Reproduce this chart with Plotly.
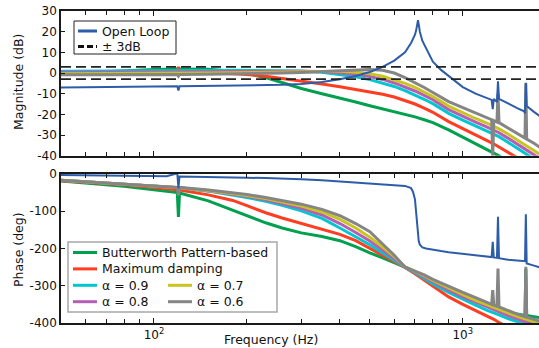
import math
import plotly.graph_objects as go

# ------------------------------------------------------------------ data
freq_ol = [50, 60, 70, 80, 90, 100, 110, 119, 120, 121, 140, 160, 180, 200, 230, 260, 300, 350, 400, 450,
           500, 550, 600, 650, 680, 690, 700, 706, 712, 716, 720, 726, 740, 760, 800, 850, 900, 950, 1000, 1100,
           1200, 1240, 1250, 1260, 1290, 1300, 1310, 1400, 1500, 1580, 1590, 1600, 1610, 1700, 1800]
open_loop_mag = [-7.0, -6.9, -6.8, -6.7, -6.6, -6.5, -6.4, -6.4, -8.5, -6.4, -6.3, -6.2, -6.1, -6.0, -5.9, -5.7, -5.3, -4.3, -3.0, -1.4,
                 0.5, 3.0, 6.0, 10.0, 14.5, 16.5, 18.5, 20.5, 23.5, 25.5, 23.5, 20.0, 15.5, 12.0, 5.5, 1.5, -1.5, -4.3, -6.8, -10.0,
                 -12.0, -13.0, -17.5, -12.5, -14.0, -4.0, -12.5, -14.8, -17.0, -18.5, -19.5, -4.7, -16.0, -18.8, -21.5]
open_loop_phase = [-3, -3.5, -4, -4.5, -5, -5.5, -6, 2, -38, -6.5, -7, -8, -9, -10, -11, -12, -14, -17, -20, -23,
                   -25, -27, -29, -32, -38, -48, -68, -100, -145, -165, -180, -190, -197, -200, -204, -207, -210, -212, -214, -218,
                   -222, -223, -182, -224, -225, -115, -226, -230, -232, -234, -234, -108, -240, -246, -252]

freq_cl = [50, 60, 80, 100, 119, 120, 121, 150, 180, 200, 230, 260, 300, 350, 400, 450, 500, 550, 600, 650,
           700, 750, 800, 900, 1000, 1100, 1200, 1240, 1250, 1260, 1290, 1300, 1310, 1400, 1500, 1590, 1600, 1610, 1700, 1800]

butter_mag = [-0.3, 0.3, 1.2, 1.7, 2.0, 2.0, 2.0, 1.8, 0.8, -0.3, -2.2, -4.5, -7.5, -10.0, -12.0, -14.0, -15.8, -17.3, -18.8, -20.0,
              -21.2, -22.6, -24.0, -27.5, -31.0, -34.0, -37.0, -38.0, -38.3, -38.6, -39.5, -39.8, -40.1, -43.0, -46.0, -48.0, -48.0, -48.3, -50.0, -52.0]
maxdamp_mag = [0.7, 0.7, 0.7, 0.6, 0.5, 3.0, 0.5, 0.3, -0.2, -0.7, -1.6, -2.6, -3.9, -5.3, -6.6, -7.9, -9.1, -10.3, -11.6, -13.2,
               -15.0, -17.0, -19.0, -23.5, -27.0, -30.0, -32.8, -33.8, -34.0, -34.3, -35.0, -35.2, -35.5, -38.0, -41.0, -43.5, -43.5, -43.7, -46.0, -48.5]
a09_mag = [0.9, 0.9, 1.0, 1.0, 1.1, 1.1, 1.1, 1.2, 1.3, 1.3, 1.3, 1.2, 1.0, 0.4, -0.6, -1.8, -3.2, -4.8, -6.5, -8.5,
           -10.6, -12.7, -14.8, -19.5, -22.8, -25.6, -28.0, -29.0, -29.2, -29.5, -30.3, -30.5, -30.8, -33.5, -36.5, -39.0, -39.0, -39.3, -41.5, -44.0]
a08_mag = [0.3, 0.3, 0.4, 0.4, 0.5, 0.5, 0.5, 0.6, 0.7, 0.8, 0.9, 0.9, 0.9, 0.7, 0.2, -0.6, -1.7, -3.1, -4.8, -6.7,
           -8.7, -10.8, -12.9, -17.7, -21.0, -23.8, -26.2, -27.1, -27.3, -27.6, -28.4, -28.6, -28.9, -31.5, -34.5, -37.0, -37.0, -37.3, -39.5, -42.0]
a07_mag = [-0.3, -0.3, -0.2, -0.2, -0.1, -0.1, -0.1, 0.0, 0.1, 0.2, 0.3, 0.4, 0.6, 0.8, 0.8, 0.4, -0.4, -1.6, -3.2, -5.0,
           -7.0, -9.2, -11.4, -16.0, -19.2, -22.0, -24.3, -25.2, -25.4, -25.7, -26.5, -26.7, -27.0, -29.5, -32.5, -35.0, -35.0, -35.3, -37.5, -40.0]
a06_mag = [-0.8, -0.8, -0.8, -0.8, -0.7, -1.5, -0.7, -0.6, -0.5, -0.4, -0.2, 0.0, 0.3, 0.8, 1.3, 1.6, 1.7, 1.3, 0.0, -2.2,
           -4.6, -7.0, -9.4, -13.8, -16.8, -19.5, -21.8, -22.6, -40.0, -23.0, -23.7, -10.0, -24.0, -26.5, -29.0, -31.5, -5.0, -32.0, -34.0, -36.5]

butter_phase = [-19, -24, -33, -42, -50, -115, -51, -72, -98, -113, -131, -145, -158, -168, -179, -195, -212, -225, -238, -250,
                -264, -277, -290, -311, -328, -342, -354, -358, -359, -360, -363, -364, -365, -371, -376, -380, -255, -380, -383, -386]
maxdamp_phase = [-18, -22, -29, -36, -43, -43, -43, -56, -71, -85, -104, -118, -133, -148, -162, -179, -199, -218, -235, -251,
                 -268, -285, -302, -330, -350, -366, -380, -386, -388, -390, -395, -397, -399, -410, -420, -428, -428, -428, -435, -442]
a09_phase = [-17, -21, -27, -32, -37, -37, -37, -46, -56, -63, -73, -84, -99, -119, -145, -168, -190, -212, -232, -250,
             -265, -280, -295, -318, -337, -352, -366, -370, -371, -372, -376, -377, -378, -388, -397, -404, -404, -405, -412, -418]
a08_phase = [-17, -21, -27, -32, -37, -37, -37, -45, -54, -60, -69, -79, -92, -110, -133, -157, -180, -204, -227, -249,
             -263, -277, -290, -312, -330, -345, -358, -362, -363, -364, -368, -369, -370, -380, -389, -396, -396, -397, -404, -410]
a07_phase = [-17, -21, -27, -32, -37, -37, -37, -44, -52, -58, -66, -75, -86, -102, -122, -145, -170, -196, -222, -249,
             -261, -273, -286, -307, -324, -339, -352, -356, -357, -358, -361, -362, -363, -373, -382, -389, -389, -390, -397, -403]
a06_phase = [-17, -21, -26, -31, -36, -58, -36, -43, -50, -55, -63, -71, -81, -95, -112, -133, -155, -188, -218, -250,
             -260, -271, -283, -302, -318, -332, -346, -350, -312, -352, -355, -254, -357, -367, -376, -383, -249, -384, -390, -397]

band_freq = [50, 1800]
band_db = [3, -3]

series_names = ["Butterworth Pattern-based", "Maximum damping", "α = 0.9", "α = 0.8", "α = 0.7", "α = 0.6"]
series_mag = [butter_mag, maxdamp_mag, a09_mag, a08_mag, a07_mag, a06_mag]
series_phase = [butter_phase, maxdamp_phase, a09_phase, a08_phase, a07_phase, a06_phase]
series_colors = ["#00A04E", "#FF3D21", "#00C6CF", "#B35FB5", "#C9C520", "#858585"]
ol_name = "Open Loop"
ol_color = "#2D5DA8"
band_name = "± 3dB"

mag_ticks = [30, 20, 10, 0, -10, -20, -30, -40]
phase_ticks = [0, -100, -200, -300, -400]
freq_major = [100, 1000]
freq_major_text = ["10<sup>2</sup>", "10<sup>3</sup>"]
freq_minor = [60, 70, 80, 90, 200, 300, 400, 500, 600, 700, 800, 900]

# ------------------------------------------------------------------ layout helpers
W, H = 539, 348
L, R, T, B = 61, 0, 11, 25
PW, PH = W - L - R, H - T - B
FONT = "DejaVu Sans"
AXC = "#1a1a1a"


def fx(p):
    return (p - L) / PW


def fy(p):
    return (H - B - p) / PH


fig = go.Figure()

for name, mag, ph, col in zip(series_names, series_mag, series_phase, series_colors):
    fig.add_trace(go.Scatter(x=freq_cl, y=mag, mode="lines", name=name, line=dict(color=col, width=3),
                             xaxis="x", yaxis="y", showlegend=False))
    fig.add_trace(go.Scatter(x=freq_cl, y=ph, mode="lines", name=name, line=dict(color=col, width=3),
                             xaxis="x2", yaxis="y2", showlegend=False))

fig.add_trace(go.Scatter(x=freq_ol, y=open_loop_mag, mode="lines", name=ol_name,
                         line=dict(color=ol_color, width=2), xaxis="x", yaxis="y", showlegend=False))
fig.add_trace(go.Scatter(x=freq_ol, y=open_loop_phase, mode="lines", name=ol_name,
                         line=dict(color=ol_color, width=2), xaxis="x2", yaxis="y2", showlegend=False))
for lvl in band_db:
    fig.add_trace(go.Scatter(x=band_freq, y=[lvl, lvl], mode="lines", name=band_name,
                             line=dict(color="#222222", width=1.8, dash="10px,5px"),
                             xaxis="x", yaxis="y", showlegend=False))

xr = [math.log10(50), math.log10(1765)]
xcommon = dict(type="log", range=xr, showgrid=False, zeroline=False, showline=True, linecolor=AXC, linewidth=1.5,
               mirror="ticks", ticks="inside", ticklen=5, tickcolor=AXC, tickwidth=1,
               tickvals=freq_major, ticktext=freq_major_text,
               minor=dict(tickmode="array", tickvals=freq_minor, ticks="inside", ticklen=4, tickcolor=AXC, tickwidth=1),
               tickfont=dict(family=FONT, size=12, color="#111"))
ycommon = dict(showgrid=False, zeroline=False, showline=True, linecolor=AXC, linewidth=1.5, mirror=False,
               ticks="inside", ticklen=4, tickcolor=AXC, tickwidth=1,
               tickfont=dict(family=FONT, size=12, color="#111"))

fig.update_layout(
    width=W, height=H, margin=dict(l=L, r=R, t=T, b=B, pad=0),
    paper_bgcolor="white", plot_bgcolor="white",
    font=dict(family=FONT, size=12.5, color="#111"),
    xaxis=dict(xcommon, domain=[0, 1], anchor="y", showticklabels=False),
    xaxis2=dict(xcommon, domain=[0, 1], anchor="y2", matches="x"),
    yaxis=dict(ycommon, domain=[fy(155.7), 1], anchor="x", range=[-40, 30],
               tickvals=mag_ticks, ticktext=[str(v) for v in mag_ticks]),
    yaxis2=dict(ycommon, domain=[0, fy(174)], anchor="x2", range=[-400, 0],
                tickvals=phase_ticks, ticktext=[str(v) for v in phase_ticks]),
    showlegend=False,
)

shapes = []
annos = []
# axis titles
annos.append(dict(text="Frequency (Hz)", x=fx(271), y=fy(339), xref="paper", yref="paper",
                  xanchor="center", yanchor="middle", showarrow=False, font=dict(size=12.5)))
annos.append(dict(text="Magnitude (dB)", x=fx(19), y=fy(82), xref="paper", yref="paper", textangle=-90,
                  xanchor="center", yanchor="middle", showarrow=False, font=dict(size=12.5)))
annos.append(dict(text="Phase (deg)", x=fx(19), y=fy(250), xref="paper", yref="paper", textangle=-90,
                  xanchor="center", yanchor="middle", showarrow=False, font=dict(size=12.5)))

# top legend
shapes.append(dict(type="rect", xref="paper", yref="paper", x0=fx(74), x1=fx(176), y0=fy(21), y1=fy(54),
                   line=dict(color="#222", width=1), fillcolor="white", layer="above"))
top_items = [(ol_name, ol_color, "solid"), (band_name, "#111", "6px,3px")]
for i, (nm, col, dsh) in enumerate(top_items):
    yy = 31 + 15.5 * i
    shapes.append(dict(type="line", xref="paper", yref="paper", x0=fx(78), x1=fx(97), y0=fy(yy), y1=fy(yy),
                       line=dict(color=col, width=3, dash=dsh), layer="above"))
    annos.append(dict(text=nm, x=fx(100), y=fy(yy), xref="paper", yref="paper", xanchor="left",
                      yanchor="middle", showarrow=False, font=dict(size=12.5)))

# bottom legend
shapes.append(dict(type="rect", xref="paper", yref="paper", x0=fx(68), x1=fx(277), y0=fy(242), y1=fy(312),
                   line=dict(color="#a8a8a8", width=1.5), fillcolor="white", layer="above"))
slots = [(0, 0), (1, 0), (2, 0), (3, 0), (2, 1), (3, 1)]
for (row, colm), nm, col in zip(slots, series_names, series_colors):
    yy = 252.5 + 16.4 * row
    x0 = 73 if colm == 0 else 168
    shapes.append(dict(type="line", xref="paper", yref="paper", x0=fx(x0), x1=fx(x0 + 24), y0=fy(yy), y1=fy(yy),
                       line=dict(color=col, width=3), layer="above"))
    annos.append(dict(text=nm, x=fx(x0 + 27), y=fy(yy), xref="paper", yref="paper", xanchor="left",
                      yanchor="middle", showarrow=False, font=dict(size=12.5)))

fig.update_layout(shapes=shapes, annotations=annos)

fig.write_html("out.html", config={"displayModeBar": False},
               post_script="document.body.style.margin='0';")
